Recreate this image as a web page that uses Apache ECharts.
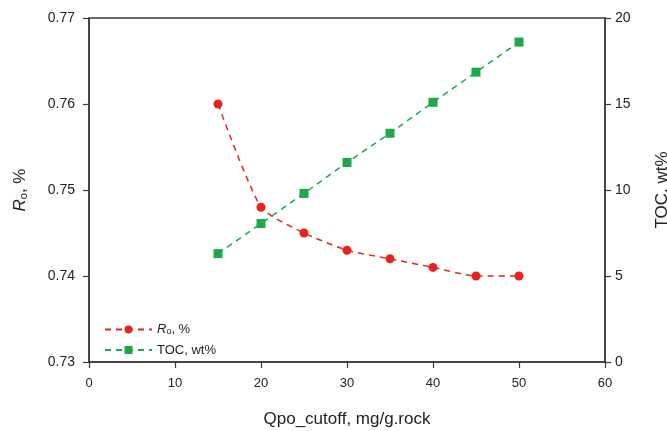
<!DOCTYPE html>
<html>
<head>
<meta charset="utf-8">
<script src="https://cdn.jsdelivr.net/npm/echarts@6/dist/echarts.min.js"></script>
<style>
  html, body { margin: 0; padding: 0; background: #fff; }
  #chart { width: 667px; height: 431px; }
</style>
</head>
<body>
<div id="chart"></div>
<script>
// Qpo cutoff values (mg/g rock)
const cutoffs = [15, 20, 25, 30, 35, 40, 45, 50];
// Vitrinite reflectance Ro (%)
const roValues = [0.760, 0.748, 0.745, 0.743, 0.742, 0.741, 0.740, 0.740];
// Total organic carbon (wt%)
const tocValues = [6.3, 8.05, 9.8, 11.6, 13.3, 15.1, 16.85, 18.6];

const FONT = '"Liberation Sans", Arial, sans-serif';
const AXIS_COLOR = '#3a3a3a';
const RED = '#e8231f';
const GREEN = '#1ea84b';

const rich = {
  i: { fontStyle: 'italic', fontSize: 17, fontFamily: FONT, color: '#222' },
  s: { fontSize: 11, fontFamily: FONT, color: '#222', padding: [7, 0, 0, 0] },
  n: { fontSize: 17, fontFamily: FONT, color: '#222' }
};
const legendRich = {
  i: { fontStyle: 'italic', fontSize: 13, fontFamily: FONT, color: '#222' },
  s: { fontSize: 9, fontFamily: FONT, color: '#222', padding: [5, 0, 0, 0] },
  n: { fontSize: 13, fontFamily: FONT, color: '#222' }
};

const chart = echarts.init(document.getElementById('chart'));
chart.setOption({
  animation: false,
  backgroundColor: '#fff',
  textStyle: { fontFamily: FONT },
  grid: {
    left: 89, right: 62, top: 18, bottom: 69,
    outerBoundsMode: 'none', containLabel: false,
    show: true, borderColor: AXIS_COLOR, borderWidth: 1.5, backgroundColor: 'transparent'
  },
  legend: {
    left: 99, top: 318, orient: 'vertical',
    itemWidth: 47, itemHeight: 10, itemGap: 7,
    textStyle: { fontSize: 13, color: '#222', rich: legendRich },
    formatter: function (name) {
      return name === 'Ro' ? '{i|R}{s|o}{n|, %}' : '{n|TOC, wt%}';
    },
    data: ['Ro', 'TOC']
  },
  xAxis: {
    type: 'value', min: 0, max: 60, interval: 10,
    name: 'Qpo_cutoff, mg/g.rock', nameLocation: 'middle', nameGap: 49,
    nameTextStyle: { fontSize: 17, color: '#222', fontFamily: FONT },
    axisLine: { lineStyle: { color: AXIS_COLOR, width: 1.5 } },
    axisTick: { inside: false, length: 6, lineStyle: { color: AXIS_COLOR, width: 1.2 } },
    axisLabel: { fontSize: 13, color: '#222', margin: 15 },
    splitLine: { show: false }
  },
  yAxis: [{
    type: 'value', min: 0.73, max: 0.77, interval: 0.01, position: 'left',
    name: '{i|R}{s|o}{n|, %}', nameLocation: 'middle', nameGap: 60, nameRotate: 90,
    nameTextStyle: { rich: rich },
    axisLine: { show: true, lineStyle: { color: AXIS_COLOR, width: 1.5 } },
    axisTick: { show: true, length: 6, lineStyle: { color: AXIS_COLOR, width: 1.2 } },
    axisLabel: { fontSize: 14, color: '#222', margin: 14, formatter: v => v.toFixed(2) },
    splitLine: { show: false }
  }, {
    type: 'value', min: 0, max: 20, interval: 5, position: 'right',
    name: 'TOC, wt%', nameLocation: 'middle', nameGap: 49, nameRotate: 90,
    nameTextStyle: { fontSize: 17, color: '#222', fontFamily: FONT },
    axisLine: { show: true, lineStyle: { color: AXIS_COLOR, width: 1.5 } },
    axisTick: { show: true, length: 6, lineStyle: { color: AXIS_COLOR, width: 1.2 } },
    axisLabel: { fontSize: 14, color: '#222', margin: 10 },
    splitLine: { show: false }
  }],
  series: [{
    name: 'Ro', type: 'line', yAxisIndex: 0, smooth: 0.2,
    data: cutoffs.map((x, i) => [x, roValues[i]]),
    symbol: 'circle', symbolSize: 9,
    itemStyle: { color: RED },
    lineStyle: { color: RED, width: 1.5, type: [6, 5] }
  }, {
    name: 'TOC', type: 'line', yAxisIndex: 1, smooth: false,
    data: cutoffs.map((x, i) => [x, tocValues[i]]),
    symbol: 'rect', symbolSize: 9,
    itemStyle: { color: GREEN },
    lineStyle: { color: GREEN, width: 1.5, type: [6, 5] }
  }]
});
</script>
</body>
</html>
